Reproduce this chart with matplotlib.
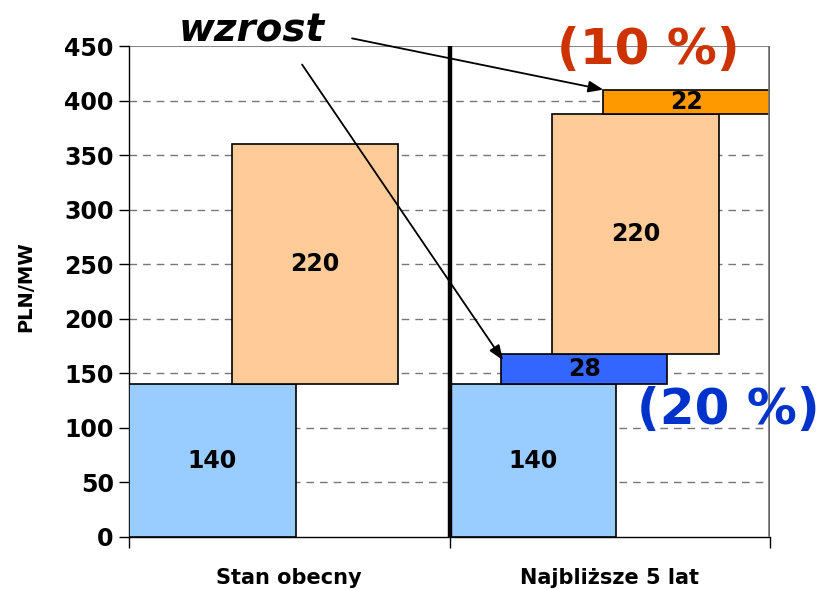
import matplotlib
matplotlib.use("Agg")
import matplotlib.pyplot as plt
import numpy as np

plt.rcParams['font.family'] = ['DejaVu Sans']

categories = ["Stan obecny", "Najbliższe 5 lat"]
series_names = ["koszt bazowy", "wzrost 20 %", "koszt 2", "wzrost 10 %"]
base_vals = [140, 140]
incr1_vals = [0, 28]
second_vals = [220, 220]
incr2_vals = [0, 22]
yticks = [0, 50, 100, 150, 200, 250, 300, 350, 400, 450]
y_label = "PLN/MW"

colors = ["#99CCFF", "#3366FF", "#FFCC99", "#FF9900"]

fig = plt.figure(figsize=(8.18, 5.90), dpi=100)
ax = fig.add_axes([129/818, 53/590, 641/818, 491/590])

width = 0.52
step = 0.16
series = [base_vals, incr1_vals, second_vals, incr2_vals]
for ci in range(len(categories)):
    bottom = 0
    for si, vals in enumerate(series):
        v = vals[ci]
        if v == 0:
            continue
        x0 = ci + si * step
        ax.bar(x0, v, bottom=bottom, width=width, align='edge',
               color=colors[si], edgecolor='black', linewidth=1.2, zorder=3)
        ax.text(x0 + width / 2, bottom + v / 2, str(v), ha='center', va='center',
                fontsize=17, fontweight='bold', zorder=4)
        bottom += v

ax.set_xlim(0, 2)
ax.set_ylim(0, 450)
ax.set_yticks(yticks)
ax.set_yticklabels([str(t) for t in yticks], fontsize=17, fontweight='bold')
ax.tick_params(axis='y', length=7, width=1, pad=4)
ax.set_xticks([0, 1, 2])
ax.set_xticklabels([])
ax.tick_params(axis='x', length=8, width=1)
ax.set_xticks([0.5, 1.5], minor=True)
ax.set_xticklabels(categories, minor=True, fontsize=15, fontweight='bold')
ax.tick_params(axis='x', which='minor', length=0, pad=22)

for t in yticks[1:-1]:
    ax.axhline(t, color='#777777', lw=1.0, dashes=(5.5, 4.3), zorder=1)
ax.axhline(450, color='#888888', lw=1.5, zorder=1)

for s in ['top', 'right']:
    ax.spines[s].set_visible(False)
ax.spines['left'].set_linewidth(1.0)
ax.spines['bottom'].set_linewidth(1.0)

ax.axvline(1, color='black', lw=3.2, zorder=5)
ax.axvline(2, color='#777777', lw=3.4, zorder=5)
ax.axvline(2, color='#222222', lw=1.0, zorder=6)

ax.set_ylabel(y_label, fontsize=14, fontweight='bold')
ax.yaxis.set_label_coords(-0.1466, 0.509)

fig.text(252/818, 1 - 30/590, "wzrost", fontsize=28, fontweight='bold',
         fontstyle='italic', ha='center', va='center')
fig.text(648/818, 1 - 50/590, "(10 %)", fontsize=36, fontweight='bold',
         color='#CC3300', ha='center', va='center')
fig.text(728/818, 1 - 410/590, "(20 %)", fontsize=36, fontweight='bold',
         color='#0033CC', ha='center', va='center')

arrowprops = dict(arrowstyle='-|>,head_length=0.9,head_width=0.35', color='black',
                  lw=1.3, shrinkA=0, shrinkB=0)
ax.annotate("", xy=(1.48, 410), xytext=(0.696, 457), xycoords='data',
            textcoords='data', arrowprops=arrowprops, annotation_clip=False)
ax.annotate("", xy=(1.167, 162), xytext=(0.54, 433), xycoords='data',
            textcoords='data', arrowprops=arrowprops, annotation_clip=False)

fig.savefig("out.png", dpi=100)
